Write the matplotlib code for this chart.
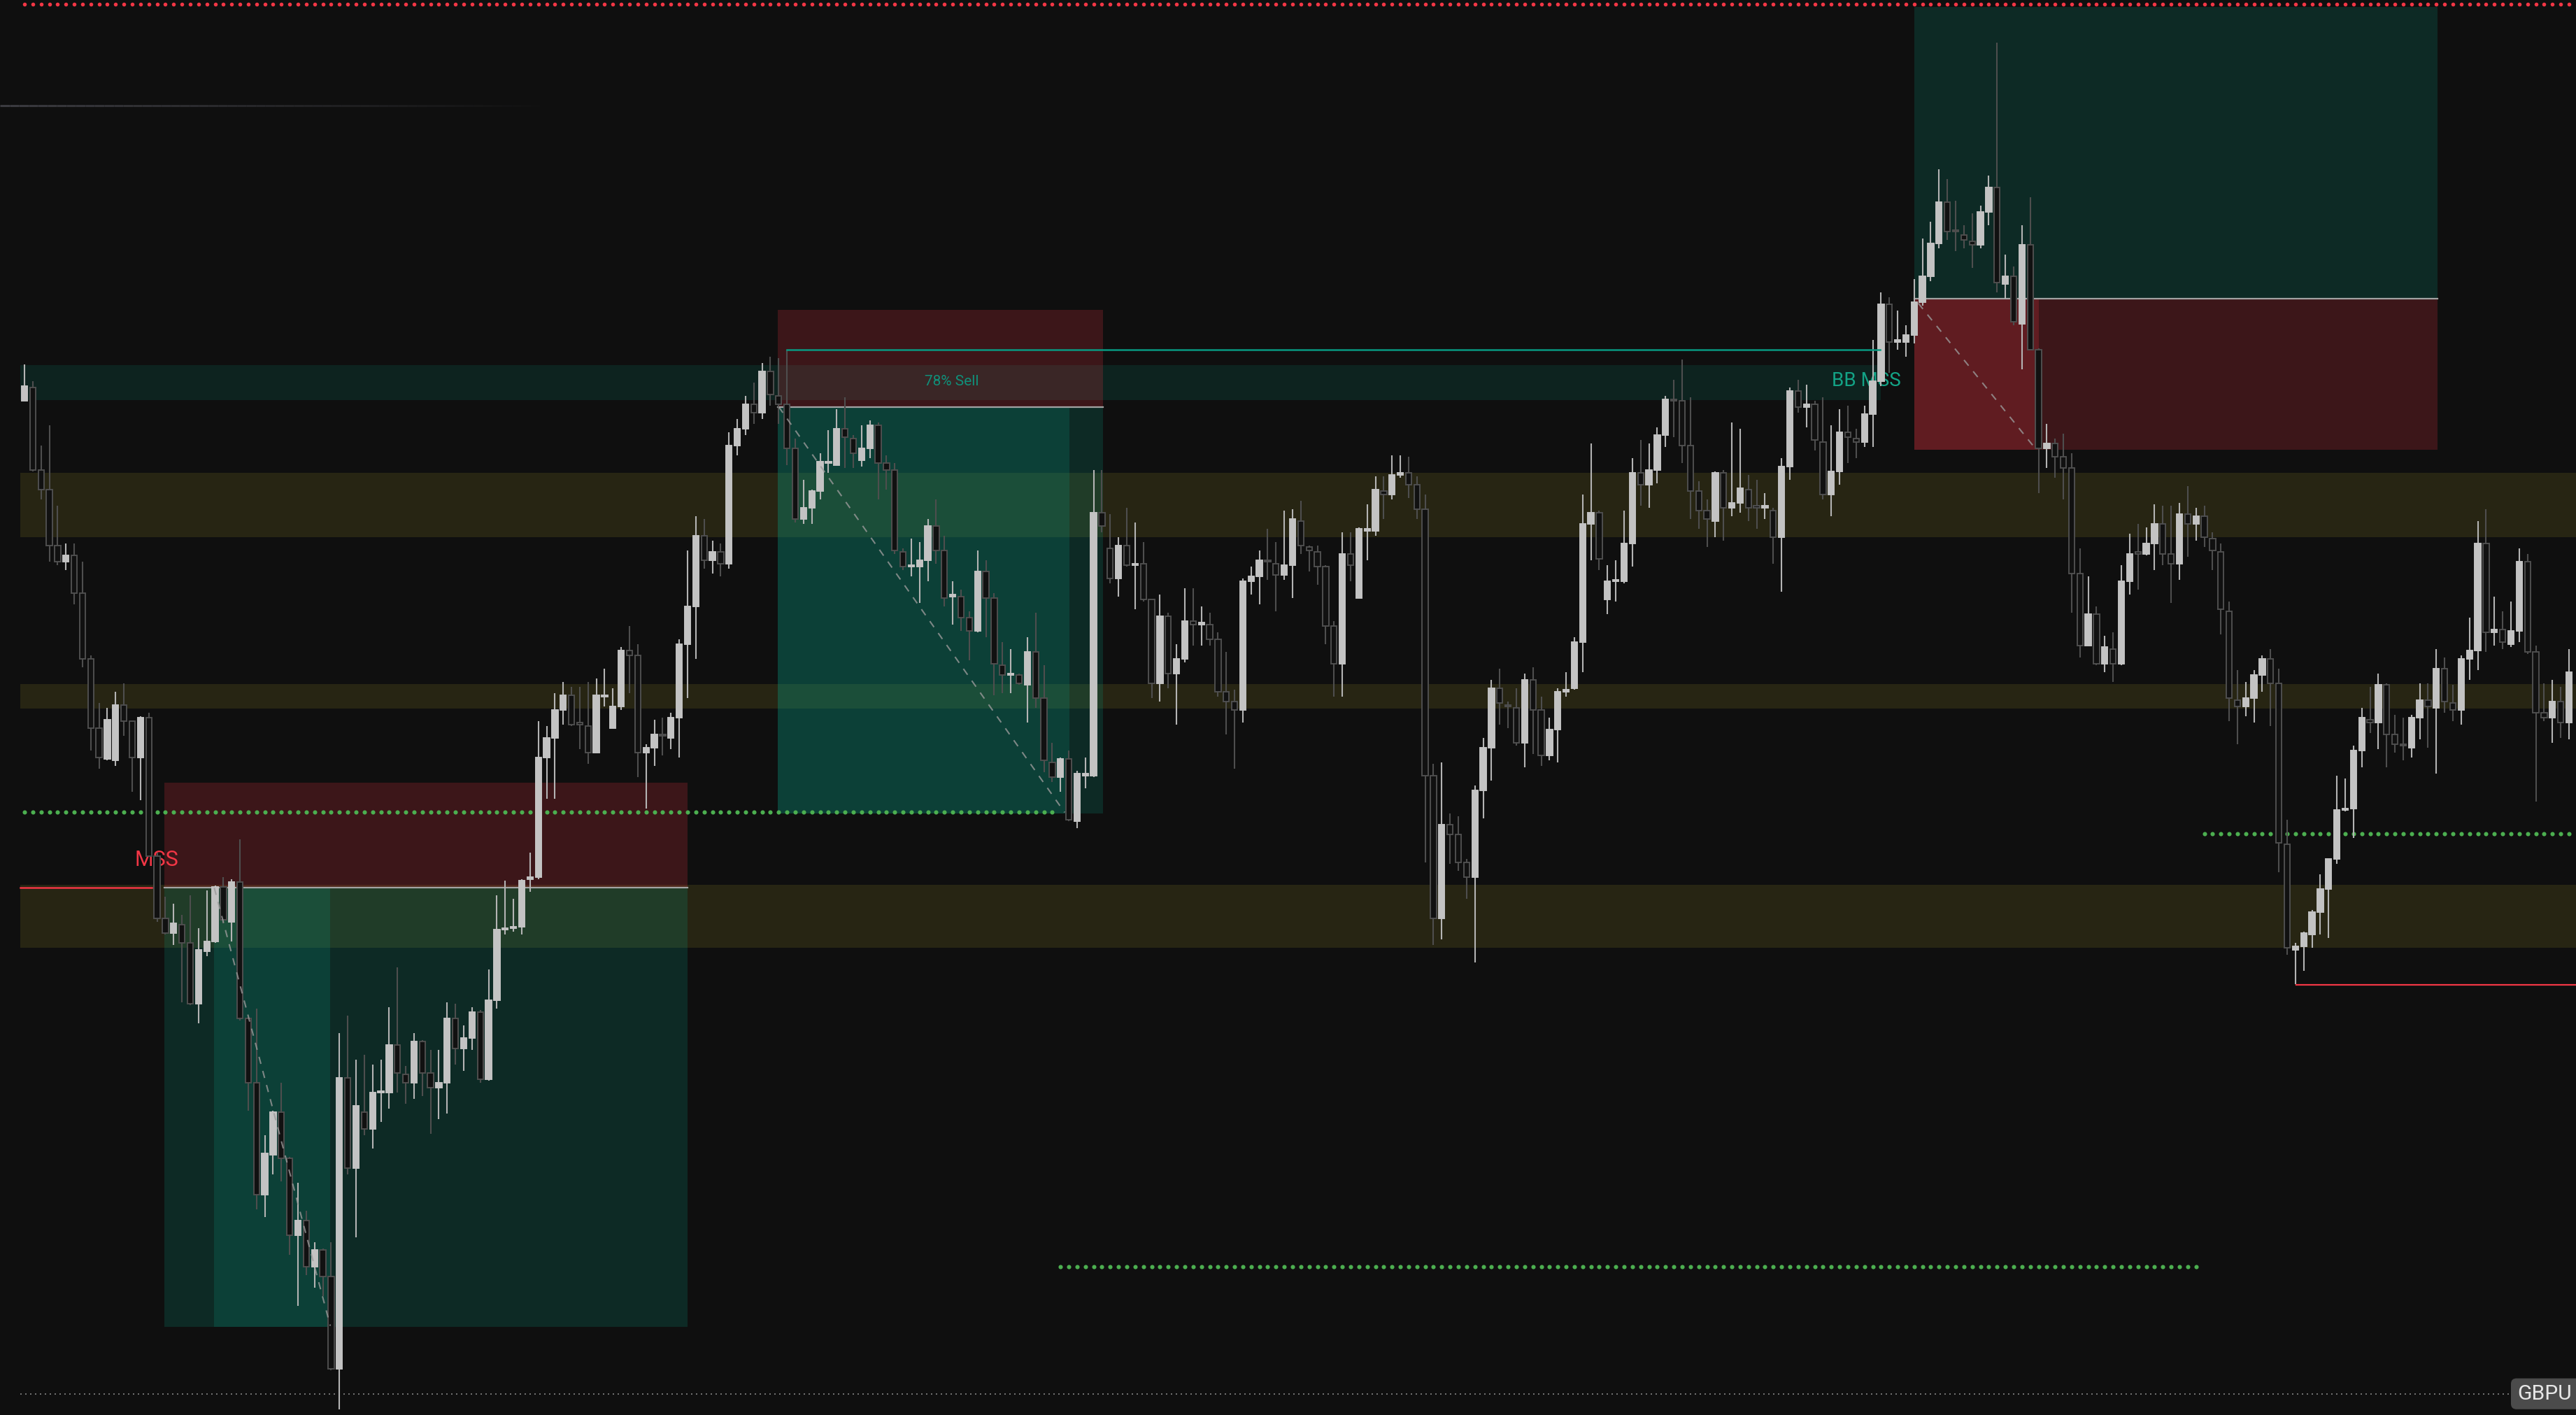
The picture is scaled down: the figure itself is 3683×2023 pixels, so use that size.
import numpy as np
import matplotlib.pyplot as plt
from matplotlib.patches import Rectangle, FancyBboxPatch
from matplotlib.collections import LineCollection

plt.rcParams['font.family'] = ['Roboto', 'DejaVu Sans']

# GBPUSD candles, prices in pips above the chart base
opens = [
    617, 625, 575, 563, 529, 519, 523, 500, 460, 418,
    399, 398, 432, 422, 400, 424, 340, 302, 293, 298,
    287, 250, 282, 288, 321, 300, 324, 241, 202, 134,
    158, 184, 156, 109, 118, 90, 100, 84, 28, 205,
    150, 184, 174, 196, 196, 225, 207, 202, 227, 208,
    199, 202, 241, 223, 229, 245, 204, 252, 295, 296,
    297, 326, 327, 400, 412, 429, 438, 421, 419, 403,
    437, 418, 431, 465, 462, 403, 406, 414, 412, 424,
    469, 492, 535, 520, 525, 518, 590, 600, 615, 610,
    635, 620, 615, 588, 545, 552, 562, 579, 578, 600,
    594, 581, 588, 602, 579, 575, 525, 516, 516, 520,
    541, 526, 498, 498, 485, 477, 513, 497, 456, 450,
    450, 444, 464, 436, 397, 388, 399, 361, 389, 389,
    549, 527, 509, 529, 517, 518, 496, 445, 486, 451,
    460, 483, 481, 481, 472, 440, 434, 429, 507, 510,
    520, 518, 511, 517, 544, 528, 525, 516, 480, 457,
    524, 497, 538, 538, 562, 560, 572, 573, 566, 551,
    389, 302, 359, 353, 336, 327, 380, 406, 442, 432,
    430, 409, 447, 429, 401, 417, 440, 442, 470, 542,
    549, 496, 507, 507, 530, 573, 566, 575, 596, 618,
    617, 590, 562, 550, 544, 573, 552, 555, 563, 553,
    552, 550, 534, 577, 623, 613, 615, 592, 560, 574,
    598, 594, 592, 609, 629, 676, 653, 653, 657, 677,
    693, 713, 738, 721, 718, 714, 712, 732, 747, 688,
    693, 664, 712, 648, 588, 591, 583, 576, 512, 468,
    487, 457, 466, 457, 507, 525, 524, 530, 542, 524,
    518, 548, 542, 547, 533, 525, 489, 435, 431, 436,
    450, 460, 445, 347, 283, 285, 292, 306, 320, 338,
    368, 369, 404, 423, 421, 444, 414, 408, 406, 424,
    435, 430, 454, 433, 429, 460, 465, 530, 476, 478,
    469, 477, 519, 464, 427, 424, 434, 421,
]
highs = [
    639, 629, 590, 602, 553, 530, 530, 519, 462, 433,
    430, 440, 445, 422, 425, 427, 342, 315, 311, 304,
    316, 296, 319, 322, 327, 326, 350, 242, 247, 170,
    185, 202, 157, 141, 124, 105, 101, 105, 232, 243,
    216, 219, 213, 216, 248, 272, 212, 232, 228, 222,
    222, 251, 250, 237, 248, 246, 271, 316, 325, 314,
    326, 342, 422, 419, 439, 446, 443, 443, 446, 448,
    454, 442, 467, 480, 469, 408, 423, 424, 427, 472,
    526, 547, 545, 532, 530, 598, 606, 620, 628, 640,
    644, 643, 648, 594, 569, 563, 585, 599, 612, 619,
    596, 602, 605, 604, 584, 579, 527, 533, 531, 545,
    557, 535, 507, 502, 489, 526, 520, 500, 470, 466,
    451, 473, 488, 456, 409, 400, 404, 392, 400, 575,
    575, 548, 534, 552, 543, 531, 496, 499, 488, 469,
    503, 503, 492, 488, 476, 464, 441, 509, 516, 526,
    539, 531, 550, 551, 556, 529, 529, 517, 483, 537,
    537, 540, 554, 571, 571, 584, 584, 583, 571, 560,
    396, 397, 366, 364, 338, 383, 412, 447, 454, 434,
    442, 451, 455, 437, 424, 442, 452, 473, 560, 591,
    550, 517, 520, 550, 582, 593, 591, 601, 620, 630,
    642, 619, 568, 557, 574, 575, 604, 600, 572, 569,
    561, 552, 582, 625, 630, 627, 617, 619, 602, 612,
    614, 600, 614, 654, 683, 680, 672, 663, 691, 716,
    726, 758, 752, 739, 724, 731, 736, 754, 835, 706,
    699, 724, 741, 649, 603, 594, 597, 585, 527, 510,
    492, 474, 476, 517, 536, 542, 540, 554, 553, 553,
    555, 565, 552, 553, 537, 530, 495, 453, 446, 453,
    462, 466, 454, 362, 287, 294, 307, 329, 338, 389,
    387, 407, 430, 443, 451, 445, 426, 424, 426, 445,
    445, 466, 461, 444, 462, 485, 544, 551, 498, 489,
    495, 527, 524, 468, 445, 447, 443, 466,
]
lows = [
    617, 574, 557, 519, 517, 514, 493, 455, 404, 393,
    398, 395, 413, 379, 374, 340, 300, 292, 286, 251,
    249, 238, 279, 287, 299, 288, 240, 185, 125, 120,
    146, 142, 97, 66, 85, 77, 72, 27, 3, 146,
    108, 170, 162, 178, 186, 196, 189, 192, 194, 171,
    180, 183, 213, 209, 222, 202, 203, 247, 292, 294,
    292, 318, 326, 375, 375, 420, 419, 405, 396, 403,
    431, 418, 429, 439, 388, 369, 395, 401, 405, 400,
    436, 460, 515, 512, 510, 515, 584, 596, 603, 606,
    614, 603, 578, 543, 542, 542, 557, 573, 578, 576,
    576, 577, 582, 557, 563, 524, 514, 510, 494, 507,
    518, 492, 481, 477, 459, 476, 473, 438, 439, 439,
    444, 421, 430, 391, 385, 379, 361, 357, 381, 388,
    537, 506, 498, 516, 490, 495, 436, 434, 442, 420,
    458, 468, 468, 468, 437, 414, 393, 421, 499, 493,
    508, 489, 508, 497, 524, 513, 505, 469, 437, 437,
    507, 497, 520, 535, 545, 557, 570, 558, 545, 336,
    286, 289, 335, 331, 314, 275, 363, 386, 420, 418,
    407, 394, 402, 395, 398, 397, 437, 441, 452, 520,
    514, 487, 495, 506, 516, 553, 552, 567, 589, 595,
    579, 545, 539, 528, 534, 532, 547, 549, 544, 539,
    545, 518, 501, 569, 610, 601, 587, 557, 547, 566,
    579, 582, 589, 589, 626, 634, 648, 644, 652, 675,
    690, 710, 715, 708, 710, 698, 710, 724, 683, 679,
    663, 636, 648, 561, 576, 570, 557, 488, 461, 468,
    456, 452, 446, 456, 499, 502, 523, 514, 517, 494,
    508, 522, 532, 528, 514, 475, 422, 408, 425, 421,
    440, 419, 330, 280, 262, 270, 284, 292, 290, 335,
    367, 351, 394, 415, 405, 394, 403, 398, 400, 411,
    406, 390, 427, 422, 420, 447, 453, 464, 468, 466,
    467, 470, 463, 373, 422, 409, 412, 411,
]
closes = [
    626, 575, 563, 529, 519, 523, 500, 460, 418, 400,
    423, 432, 422, 400, 424, 340, 302, 293, 299, 287,
    250, 283, 288, 321, 301, 324, 241, 202, 134, 159,
    184, 156, 109, 118, 90, 100, 84, 28, 205, 150,
    188, 174, 196, 197, 225, 208, 202, 227, 208, 199,
    202, 241, 223, 229, 245, 204, 252, 295, 296, 297,
    325, 327, 400, 412, 429, 438, 420, 420, 403, 438,
    438, 431, 465, 462, 403, 406, 414, 413, 424, 469,
    492, 535, 520, 525, 518, 590, 600, 615, 610, 635,
    621, 615, 588, 545, 552, 562, 580, 580, 600, 595,
    585, 588, 602, 579, 575, 526, 516, 517, 520, 541,
    526, 497, 499, 485, 477, 513, 497, 457, 450, 451,
    445, 464, 436, 398, 388, 399, 362, 390, 390, 549,
    541, 509, 529, 517, 518, 496, 445, 486, 451, 460,
    483, 481, 482, 472, 440, 434, 429, 507, 510, 520,
    519, 511, 517, 545, 529, 526, 516, 480, 457, 524,
    517, 539, 539, 563, 560, 572, 573, 566, 551, 389,
    302, 359, 353, 336, 327, 380, 406, 442, 433, 431,
    409, 447, 429, 401, 417, 440, 441, 470, 542, 549,
    521, 507, 508, 530, 573, 566, 575, 596, 618, 617,
    590, 562, 550, 545, 573, 552, 555, 564, 552, 552,
    553, 534, 577, 623, 613, 615, 593, 560, 574, 598,
    595, 592, 609, 629, 676, 653, 654, 657, 677, 693,
    713, 738, 720, 720, 715, 712, 732, 747, 689, 693,
    665, 712, 648, 588, 591, 583, 576, 512, 468, 487,
    457, 467, 457, 507, 524, 524, 530, 542, 524, 518,
    548, 542, 547, 534, 526, 490, 436, 431, 436, 450,
    460, 445, 348, 284, 285, 293, 306, 320, 338, 368,
    369, 404, 424, 421, 444, 414, 408, 407, 424, 435,
    431, 454, 434, 429, 460, 465, 530, 476, 478, 470,
    477, 519, 464, 427, 424, 434, 421, 452,
]
assert len(opens) == len(highs) == len(lows) == len(closes)

# key levels (pips)
ZONES = [(534, 573.4), (429.6, 444.7), (284.2, 322.4)]
BB_ZONE = (617.5, 638.7)
BB_END = 224
SWING_HIGH = 648.1
TOP_LIQ = 858.5
LIQ_LEFT = 366.5
LIQ_MID = 90
LIQ_RIGHT = 353.5
LOW_LIQ = 12.6
MSS_LEVEL = 320.6
LOW_BREAK = 261.5
OLD_LINE = 796.7

# position tools: bar span, entry / stop / target
trades = [
    dict(start=16.9, end=80.0, entry=320.6, stop=384.5, target=53.3,
         extra=(22.9, 36.9, 'target')),
    dict(start=90.9, end=130.1, entry=613.4, stop=672.5, target=366.0,
         extra=(90.9, 126.1, 'target')),
    dict(start=228.0, end=291.1, entry=679.0, stop=587.3, target=856.9,
         extra=(228.0, 243.0, 'stop')),
]

BG = '#0f0f0f'
RED = '#f23645'
TEAL = '#089981'
GREEN = '#4caf50'

fig = plt.figure(figsize=(3683 / 200, 2023 / 200), dpi=200)
fig.patch.set_facecolor(BG)
ax = fig.add_axes([0, 0, 1, 1])
ax.set_facecolor(BG)
ax.set_xlim(-2.95, 307.85)
ax.set_ylim(-0.3, 861)
ax.axis('off')

LEFT, RIGHT = -0.54, 309


def box(x0, x1, y0, y1, color, alpha, z=1.2):
    ax.add_patch(Rectangle((x0, min(y0, y1)), x1 - x0, abs(y1 - y0),
                           facecolor=color, alpha=alpha, edgecolor='none', zorder=z))


def dots(i0, i1, level, color, ms):
    xs = np.arange(i0, i1 + 1)
    ax.plot(xs, np.full(len(xs), level), 'o', ms=ms, color=color, mec='none', zorder=2)


# zones
for lo, hi in ZONES:
    box(LEFT, RIGHT, lo, hi, '#ffeb3b', 0.10, 1)
box(LEFT, BB_END, BB_ZONE[0], BB_ZONE[1], TEAL, 0.15, 1)

# position boxes
for t in trades:
    box(t['start'], t['end'], t['entry'], t['stop'], RED, 0.2)
    box(t['start'], t['end'], t['entry'], t['target'], TEAL, 0.2)
    x0, x1, kind = t['extra']
    if kind == 'target':
        box(x0, x1, t['entry'], t['target'], TEAL, 0.2)
    else:
        box(x0, x1, t['entry'], t['stop'], RED, 0.2)
    ax.plot([t['start'], t['end']], [t['entry']] * 2, color='#a3a3a3', lw=0.8, zorder=2.6)

# liquidity dots
dots(0, 307, TOP_LIQ, RED, 2.0)
dots(0, 124, LIQ_LEFT, GREEN, 2.2)
dots(125, 262, LIQ_MID, GREEN, 2.2)
dots(263, 307, LIQ_RIGHT, GREEN, 2.2)
ax.plot([LEFT, 300], [LOW_LIQ, LOW_LIQ], color='#777777', lw=0.7,
        ls=(0, (1, 2.6)), zorder=2)

# faded old level at the top left
xs = np.linspace(-2.95, 64.5, 60)
segs = [[(xs[k], OLD_LINE), (xs[k + 1], OLD_LINE)] for k in range(59)]
cols = [(0.23, 0.23, 0.25, a) for a in np.linspace(1, 0, 59)]
ax.add_collection(LineCollection(segs, colors=cols, lw=1.1, zorder=2))

# labels under candles
ax.text(15.98, 337.7, 'MSS', color=RED, fontsize=11, ha='center', va='center', zorder=2.5)
ax.text(222.2, 629, 'BB MSS', color='#13a386', fontsize=10, ha='center', va='center', zorder=2.5)

# candles
o = np.array(opens, float)
c = np.array(closes, float)
h = np.maximum(np.array(highs, float), np.maximum(o, c))
l = np.minimum(np.array(lows, float), np.minimum(o, c))
x = np.arange(len(c))
up = c >= o
wick_cols = ['#b4b4b4' if u else '#4e4e4e' for u in up]
ax.vlines(x, l, h, colors=wick_cols, lw=0.75, zorder=3)
ax.bar(x, np.maximum(np.abs(c - o), 1.0), 0.7, np.minimum(o, c),
       color=['#c3c3c3' if u else '#111111' for u in up],
       edgecolor=['#c3c3c3' if u else '#4e4e4e' for u in up],
       linewidth=0.7, zorder=4)

# structure lines
ax.plot([92, 223.9], [SWING_HIGH] * 2, color=TEAL, lw=0.9, zorder=5)
ax.plot([-0.5, 15.4], [MSS_LEVEL] * 2, color=RED, lw=0.9, zorder=5)
ax.plot([274.1, RIGHT], [LOW_BREAK] * 2, color=RED, lw=0.8, zorder=5)

# trade paths
paths = [((22.9, 320.6), (36.9, 54.0)), ((91.0, 613.4), (125.5, 366.5)),
         ((228.5, 676.4), (242.6, 588.1))]
for (xa, ya), (xb, yb) in paths:
    ax.plot([xa, xb], [ya, yb], color='#9a9a9a', lw=0.75, ls=(0, (5, 5)),
            alpha=0.8, zorder=5)

ax.text(111.9, 628.6, '78% Sell', color='#10907a', fontsize=7.5,
        ha='center', va='center', zorder=5)

# symbol tag bottom right
ax.add_patch(FancyBboxPatch((300.0, 3.2), 9.0, 18.8,
                            boxstyle='round,pad=0,rounding_size=0.67',
                            mutation_aspect=5.06, fc='#4b4b4b', ec='none', zorder=6))
ax.text(300.75, 12.4, 'GBPU', color='#e6e6e6', fontsize=10.8,
        ha='left', va='center', zorder=7)

fig.savefig('out.png', dpi=200, facecolor=BG)
